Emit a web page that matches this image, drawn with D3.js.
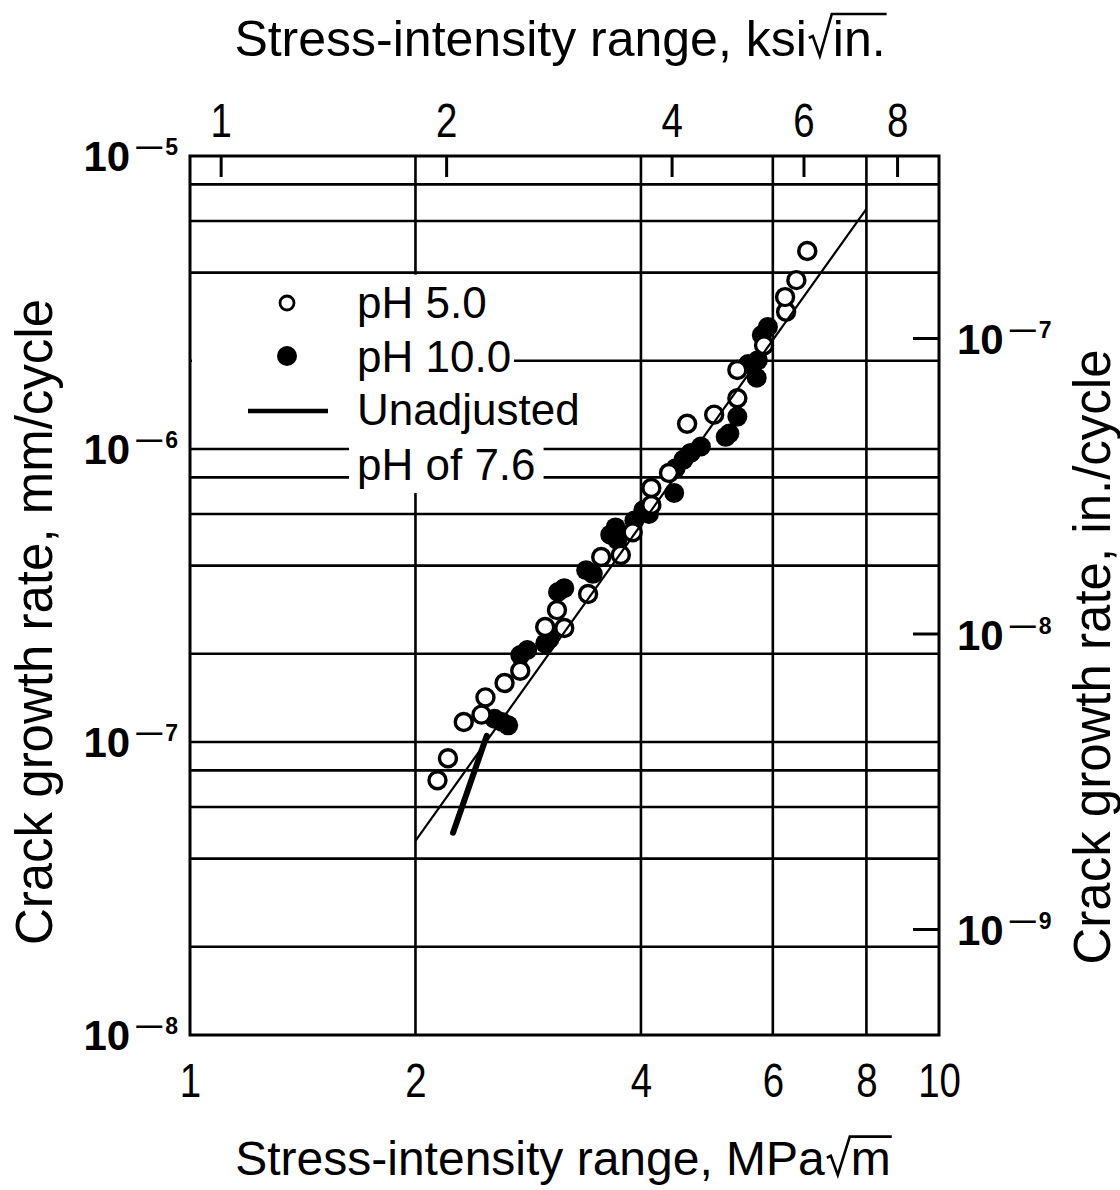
<!DOCTYPE html>
<html>
<head>
<meta charset="utf-8">
<script src="https://cdn.jsdelivr.net/npm/d3@7"></script>
<style>
  html, body { margin: 0; padding: 0; background: #fff; }
  svg { display: block; }
</style>
</head>
<body>
<svg id="chart" width="1120" height="1190"></svg>
<script>
// ---------------- data ----------------
const mpaTicks = [1, 2, 4, 6, 8, 10];
const mpaTickLabels = ["1", "2", "4", "6", "8", "10"];
const ksiTicks = [1, 2, 4, 6, 8];
const ksiTickLabels = ["1", "2", "4", "6", "8"];
const ksiToMpa = 1.0988;
const mmTicks = [1e-5, 1e-6, 1e-7, 1e-8];
const mmTickExponents = ["5", "6", "7", "8"];
const inTicks = [1e-7, 1e-8, 1e-9];
const inTickExponents = ["7", "8", "9"];
const xGridValues = [2, 4, 6, 8];
const yGridValues = [2e-8, 4e-8, 6e-8, 8e-8, 1e-7, 2e-7, 4e-7, 6e-7, 8e-7, 1e-6, 2e-6, 4e-6, 6e-6, 8e-6];

// pH 5.0 (open circles)
const ph5K = [2.14, 2.21, 2.32, 2.45, 2.48, 2.63, 2.76, 2.98, 3.09, 3.16, 3.40, 3.54, 3.76, 3.90, 4.13, 4.13, 4.36, 4.61, 5.01, 5.38, 5.38, 5.84, 6.25, 6.23, 6.45, 6.67];
const ph5Rate = [7.4e-8, 8.8e-8, 1.17e-7, 1.24e-7, 1.42e-7, 1.59e-7, 1.75e-7, 2.47e-7, 2.82e-7, 2.45e-7, 3.2e-7, 4.28e-7, 4.35e-7, 5.2e-7, 6.44e-7, 7.36e-7, 8.28e-7, 1.22e-6, 1.31e-6, 1.49e-6, 1.86e-6, 2.26e-6, 2.94e-6, 3.30e-6, 3.77e-6, 4.74e-6];
// pH 10.0 (filled circles)
const ph10K = [2.55, 2.61, 2.66, 2.76, 2.82, 2.98, 3.02, 3.10, 3.16, 3.38, 3.45, 3.64, 3.70, 3.72, 3.92, 4.03, 4.10, 4.43, 4.45, 4.56, 4.66, 4.81, 5.19, 5.25, 5.38, 5.56, 5.71, 5.73, 5.80, 5.91];
const ph10Rate = [1.2e-7, 1.17e-7, 1.14e-7, 1.98e-7, 2.06e-7, 2.17e-7, 2.25e-7, 3.25e-7, 3.35e-7, 3.86e-7, 3.75e-7, 5.1e-7, 5.4e-7, 4.89e-7, 5.7e-7, 6.19e-7, 6.0e-7, 7.08e-7, 8.6e-7, 9.2e-7, 9.7e-7, 1.02e-6, 1.10e-6, 1.13e-6, 1.29e-6, 1.95e-6, 1.75e-6, 2.01e-6, 2.45e-6, 2.61e-6];
// Fitted line (thin)
const fitK = [2.0, 8.0];
const fitRate = [4.6e-8, 6.6e-6];
// Unadjusted pH 7.6 (thick)
const unadjK = [2.245, 2.49];
const unadjRate = [4.9e-8, 1.05e-7];

// ---------------- setup ----------------
const svg = d3.select("#chart");
const SANS = "'Liberation Sans', Arial, Helvetica, sans-serif";

const x = d3.scaleLog().domain([1, 10]).range([190, 939]);
const y = d3.scaleLog().domain([1e-8, 1e-5]).range([1035, 156]);
const xKsi = d3.scaleLog().domain([1 / ksiToMpa, 10 / ksiToMpa]).range(x.range());
const yIn = d3.scaleLog().domain([1e-9, 1e-7]).range([929, 338]);

const [x0, x1] = x.range();
const [y0, y1] = y.range();

// ---------------- grid ----------------
const grid = svg.append("g").attr("stroke", "#000").attr("stroke-width", 2.6).attr("fill", "none");
grid.selectAll("line.h").data(yGridValues).join("line")
  .attr("class", "h")
  .attr("x1", x0).attr("x2", x1)
  .attr("y1", d => y(d)).attr("y2", d => y(d));
grid.selectAll("line.v").data(xGridValues).join("line")
  .attr("class", "v")
  .attr("x1", d => x(d)).attr("x2", d => x(d))
  .attr("y1", y0).attr("y2", y1);

svg.append("rect")
  .attr("x", x0).attr("y", y1)
  .attr("width", x1 - x0).attr("height", y0 - y1)
  .attr("fill", "none").attr("stroke", "#000").attr("stroke-width", 3);

// ---------------- axes ----------------
const bottomAxis = d3.axisBottom(x).tickValues(mpaTicks)
  .tickFormat((d, i) => mpaTickLabels[i]).tickSize(0).tickPadding(0);
const gb = svg.append("g").attr("transform", `translate(0,${y0})`).call(bottomAxis);
gb.select(".domain").remove();
gb.selectAll("text")
  .attr("font-family", SANS).attr("font-size", 48).attr("fill", "#000")
  .attr("y", 0).attr("dy", 0)
  .attr("transform", "translate(0,62) scale(0.8,1)");

const topAxis = d3.axisTop(xKsi).tickValues(ksiTicks)
  .tickFormat((d, i) => ksiTickLabels[i]).tickSizeInner(-20).tickSizeOuter(0).tickPadding(0);
const gt = svg.append("g").attr("transform", `translate(0,${y1 + 1})`).call(topAxis);
gt.select(".domain").remove();
gt.selectAll("line").attr("stroke", "#000").attr("stroke-width", 3);
gt.selectAll("text")
  .attr("font-family", SANS).attr("font-size", 48).attr("fill", "#000")
  .attr("y", 0).attr("dy", 0)
  .attr("transform", "translate(0,-20) scale(0.8,1)");

const rightAxis = d3.axisRight(yIn).tickValues(inTicks).tickFormat("").tickSizeInner(-26).tickSizeOuter(0);
const gr = svg.append("g").attr("transform", `translate(${x1},0)`).call(rightAxis);
gr.select(".domain").remove();
gr.selectAll("line").attr("stroke", "#000").attr("stroke-width", 3);

function powLabel(sel, px, py, exp, anchor) {
  const t = sel.append("text")
    .attr("x", px).attr("y", py)
    .attr("text-anchor", anchor)
    .attr("font-family", SANS).attr("font-weight", "bold")
    .attr("font-size", 42).attr("fill", "#000");
  t.append("tspan").text("10");
  t.append("tspan").attr("dx", 6).attr("dy", -16).attr("font-size", 26).text("\u2014");
  t.append("tspan").attr("dx", 3).attr("font-size", 23).text(exp);
}
const leftLabels = svg.append("g");
mmTicks.forEach((v, i) => powLabel(leftLabels, 178, y(v) + 15, mmTickExponents[i], "end"));
const rightLabels = svg.append("g");
inTicks.forEach((v, i) => powLabel(rightLabels, 957, yIn(v) + 16, inTickExponents[i], "start"));

// ---------------- axis titles ----------------
function radicalTitle(px, py, before, after, fs, rise) {
  const t = svg.append("text")
    .attr("x", 0).attr("y", py)
    .attr("font-family", SANS).attr("font-size", fs).attr("fill", "#000");
  t.append("tspan").text(before);
  t.append("tspan").attr("dx", 26).text(after);
  const w = t.node().getComputedTextLength() + 26;
  t.attr("x", px - w / 2);
  const node = t.node();
  const eB = node.getEndPositionOfChar(before.length - 1).x;
  const sA = node.getStartPositionOfChar(before.length).x;
  const eA = node.getEndPositionOfChar(before.length + after.length - 1).x;
  const top = py - rise * fs;
  svg.append("path")
    .attr("d", `M${eB + 2},${py - 0.36 * fs} L${eB + 6},${py - 0.40 * fs} L${eB + 13},${py} L${sA - 1},${top} L${eA + 1},${top}`)
    .attr("fill", "none").attr("stroke", "#000").attr("stroke-width", 2.6)
    .attr("stroke-linejoin", "miter");
}
radicalTitle(560, 56, "Stress-intensity range, ksi", "in.", 50, 0.84);
radicalTitle(563, 1175, "Stress-intensity range, MPa", "m", 48, 0.80);

svg.append("text")
  .attr("transform", "translate(52,622) rotate(-90)")
  .attr("text-anchor", "middle")
  .attr("font-family", SANS).attr("font-size", 51).attr("fill", "#000")
  .text("Crack growth rate, mm/cycle");
svg.append("text")
  .attr("transform", "translate(1110,657) rotate(-90)")
  .attr("text-anchor", "middle")
  .attr("font-family", SANS).attr("font-size", 51).attr("fill", "#000")
  .text("Crack growth rate, in./cycle");

// ---------------- legend ----------------
const leg = svg.append("g");
leg.append("rect").attr("x", x0 + 2).attr("y", y(4e-6) + 2)
  .attr("width", 322).attr("height", 440 - y(4e-6) - 2).attr("fill", "#fff");
const legTexts = ["pH 5.0", "pH 10.0", "Unadjusted", "pH of 7.6"];
const legBase = [318, 372, 425, 480];
legTexts.forEach((s, i) => {
  const t = leg.append("text").attr("x", 357).attr("y", legBase[i])
    .attr("font-family", SANS).attr("font-size", 44).attr("fill", "#000").text(s);
  if (i === 3) {
    const bb = t.node().getBBox();
    leg.insert("rect", "text").attr("x", bb.x - 8).attr("y", bb.y - 4)
      .attr("width", bb.width + 16).attr("height", bb.height + 8).attr("fill", "#fff");
  }
});
leg.append("circle").attr("cx", 287).attr("cy", 303).attr("r", 7)
  .attr("fill", "#fff").attr("stroke", "#000").attr("stroke-width", 2.8);
leg.append("circle").attr("cx", 287).attr("cy", 356).attr("r", 10).attr("fill", "#000");
leg.append("line").attr("x1", 248).attr("x2", 328).attr("y1", 411).attr("y2", 411)
  .attr("stroke", "#000").attr("stroke-width", 4.5);

// ---------------- data marks ----------------
const ph10 = ph10K.map((k, i) => ({ k, r: ph10Rate[i] }));
const ph5 = ph5K.map((k, i) => ({ k, r: ph5Rate[i] }));

svg.append("g").selectAll("circle").data(ph10).join("circle")
  .attr("cx", d => x(d.k)).attr("cy", d => y(d.r)).attr("r", 10).attr("fill", "#000");

svg.append("g").selectAll("circle").data(ph5).join("circle")
  .attr("cx", d => x(d.k)).attr("cy", d => y(d.r)).attr("r", 8.5)
  .attr("fill", "#fff").attr("stroke", "#000").attr("stroke-width", 3.4);

const line = d3.line().x(d => x(d.k)).y(d => y(d.r));
svg.append("path")
  .datum(fitK.map((k, i) => ({ k, r: fitRate[i] })))
  .attr("d", line).attr("fill", "none").attr("stroke", "#000").attr("stroke-width", 2.2);
svg.append("path")
  .datum(unadjK.map((k, i) => ({ k, r: unadjRate[i] })))
  .attr("d", line).attr("fill", "none").attr("stroke", "#000").attr("stroke-width", 6)
  .attr("stroke-linecap", "round");
</script>
</body>
</html>
